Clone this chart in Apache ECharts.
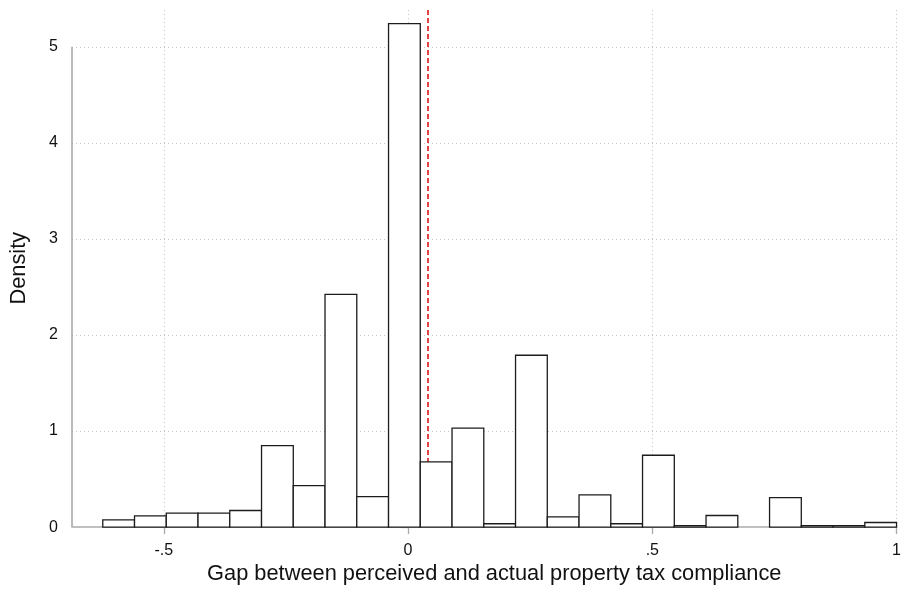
<!DOCTYPE html>
<html>
<head>
<meta charset="utf-8">
<script src="https://cdn.jsdelivr.net/npm/echarts@6/dist/echarts.min.js"></script>
<style>html,body{margin:0;padding:0;background:#fff}#c{width:904px;height:590px}</style>
</head>
<body>
<div id="c"></div>
<script>
// Histogram bin edges (26 edges -> 25 bins)
const binEdges = [-0.625, -0.56, -0.495, -0.43, -0.365, -0.3, -0.235, -0.17, -0.105, -0.04, 0.025,
  0.09, 0.155, 0.22, 0.285, 0.35, 0.415, 0.48, 0.545, 0.61, 0.675, 0.74, 0.805, 0.87, 0.935, 1.0];
// Density of each bin
const densities = [0.076, 0.117, 0.145, 0.145, 0.173, 0.848, 0.432, 2.423, 0.318, 5.24, 0.678, 1.031,
  0.035, 1.789, 0.107, 0.335, 0.035, 0.748, 0.015, 0.121, 0, 0.307, 0.015, 0.015, 0.048];
const meanGap = 0.04;
const xTicks = [-0.5, 0, 0.5, 1];
const yTicks = [0, 1, 2, 3, 4, 5];
const xMin = -0.688, xMax = 1.0, yMin = 0, yMax = 5.39;
const xTitle = 'Gap between perceived and actual property tax compliance';
const yTitle = 'Density';

const FONT = '"Liberation Sans", Helvetica, Arial, sans-serif';
const histData = densities.map((d, i) => [binEdges[i], binEdges[i + 1], d]);

const gridLines = [];
yTicks.forEach(v => gridLines.push([{coord: [xMin, v]}, {coord: [xMax, v]}]));
xTicks.forEach(v => gridLines.push([{coord: [v, yMin]}, {coord: [v, yMax]}]));

function fmtX(v) {
  if (v === 0) return '0';
  const s = String(Math.abs(v)).replace(/^0/, '');
  return (v < 0 ? '-' : '') + s;
}

const chart = echarts.init(document.getElementById('c'), null, {renderer: 'canvas'});
chart.setOption({
  animation: false,
  backgroundColor: '#fff',
  grid: {left: 70.7, right: 6.3, top: 9.3, bottom: 61.7, containLabel: false},
  xAxis: {
    type: 'value', min: xMin, max: xMax,
    name: xTitle, nameLocation: 'middle', nameGap: 23,
    nameTextStyle: {fontFamily: FONT, fontSize: 21.8, color: '#111', padding: [0, 0, 0, 20]},
    axisLine: {show: true, lineStyle: {color: '#aaaaaa', width: 1.6}},
    axisTick: {show: true, customValues: xTicks, length: 7, lineStyle: {color: '#aaaaaa', width: 1.3}},
    axisLabel: {customValues: xTicks, formatter: fmtX, fontFamily: FONT, fontSize: 16, color: '#111', margin: 15},
    splitLine: {show: false}
  },
  yAxis: {
    type: 'value', min: yMin, max: yMax,
    name: yTitle, nameLocation: 'middle', nameGap: 42, nameRotate: 90,
    nameTextStyle: {fontFamily: FONT, fontSize: 21.8, color: '#111'},
    axisLine: {show: false},
    axisTick: {show: true, customValues: yTicks, length: 7, lineStyle: {color: '#aaaaaa', width: 1.3}},
    axisLabel: {customValues: yTicks, fontFamily: FONT, fontSize: 16, color: '#111', margin: 14},
    splitLine: {show: false}
  },
  series: [
    {
      type: 'line', data: [], silent: true, z: 1,
      markLine: {
        silent: true, symbol: 'none', z: 1, animation: false,
        label: {show: false},
        lineStyle: {color: '#c4c4c4', type: [1, 3], width: 1},
        data: gridLines
      }
    },
    {
      type: 'line', data: [], silent: true, z: 1,
      markLine: {
        silent: true, symbol: 'none', z: 1, animation: false,
        label: {show: false},
        lineStyle: {color: '#e3121b', type: [5, 3], width: 1.6},
        data: [[{coord: [meanGap, yMin]}, {coord: [meanGap, yMax]}]]
      }
    },
    {
      type: 'line', data: [], silent: true, z: 3,
      markLine: {
        silent: true, symbol: 'none', z: 3, animation: false,
        label: {show: false},
        lineStyle: {color: '#aaaaaa', type: 'solid', width: 1.6},
        data: [[{coord: [xMin, yMin]}, {coord: [xMin, yTicks[yTicks.length - 1]]}]]
      }
    },
    {
      type: 'custom', z: 2,
      data: histData,
      encode: {x: [0, 1], y: 2},
      renderItem: function (params, api) {
        const x0 = api.value(0), x1 = api.value(1), h = api.value(2);
        if (!h) return null;
        const p0 = api.coord([x0, h]);
        const p1 = api.coord([x1, 0]);
        return {
          type: 'rect',
          shape: {x: p0[0], y: p0[1], width: p1[0] - p0[0], height: p1[1] - p0[1]},
          style: {fill: '#ffffff', stroke: '#1c1c1c', lineWidth: 1.3}
        };
      }
    }
  ]
});
</script>
</body>
</html>
